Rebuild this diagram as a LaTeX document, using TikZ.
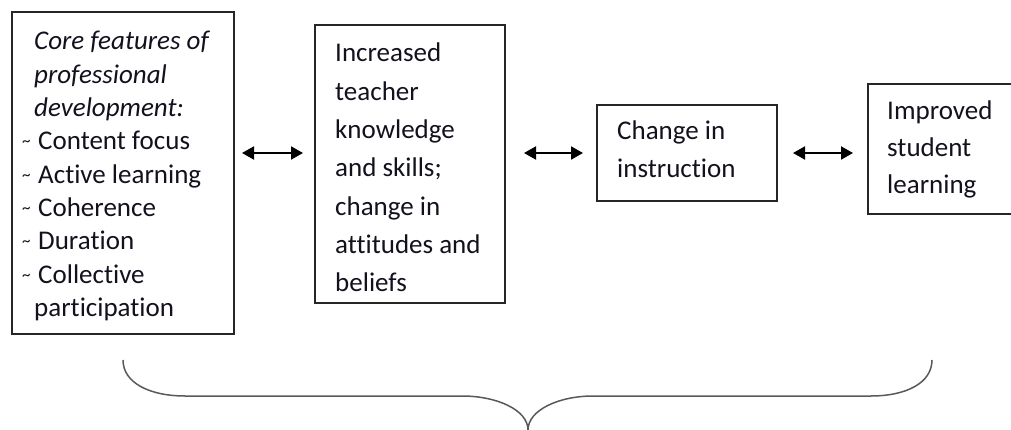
\documentclass[tikz,border=0pt]{standalone}
\usepackage{fontspec}
\setmainfont{Carlito}[Ligatures=NoCommon]
\usetikzlibrary{arrows.meta}
\definecolor{ink}{RGB}{18,18,30}
% small tilde used as a bullet
\newcommand\tld{\makebox[16pt][l]{\raisebox{3pt}{\fontsize{17}{17}\selectfont\textasciitilde}}}
\begin{document}
\begin{tikzpicture}[x=1pt,y=-1pt,
  box/.style={draw=black!85, line width=1.3pt, rectangle, inner sep=0pt, outer sep=0pt},
  txt/.style={anchor=base west, inner sep=0pt, text=ink},
  link/.style={draw=black, line width=2pt,
    {Triangle[length=12pt,width=13pt]}-{Triangle[length=12pt,width=13pt]}},
  bracepath/.style={draw=black!65, line width=1.5pt}]
\useasboundingbox (0,0) rectangle (1011,430);
\clip (0,0) rectangle (1011,430);

% boxes
\node[box, minimum width=222pt, minimum height=322pt] (b1) at (123,173) {};
\node[box, minimum width=190pt, minimum height=278pt] (b2) at (410,164) {};
\node[box, minimum width=180pt, minimum height=96pt]  (b3) at (687,153) {};
\node[box, minimum width=162pt, minimum height=130pt] (b4) at (949,149) {};

% box texts
\node[txt] (t1) at (34,50) {\parbox[t]{215pt}{\fontsize{27}{33.3}\selectfont\raggedright
  \textit{Core features of}\\
  \textit{professional}\\
  \textit{development:}\\
  \hspace*{-12pt}\tld Content focus\\
  \hspace*{-12pt}\tld Active learning\\
  \hspace*{-12pt}\tld Coherence\\
  \hspace*{-12pt}\tld Duration\\
  \hspace*{-12pt}\tld Collective\\
  participation}};
\node[txt] (t2) at (335,62) {\parbox[t]{170pt}{\fontsize{27}{38.3}\selectfont\raggedright
  Increased\\ teacher\\ knowledge\\ and skills;\\ change in\\ attitudes and\\ beliefs}};
\node[txt] (t3) at (617,140) {\parbox[t]{160pt}{\fontsize{27}{38}\selectfont\raggedright
  Change in\\ instruction}};
\node[txt] (t4) at (887,120) {\parbox[t]{120pt}{\fontsize{27}{37}\selectfont\raggedright
  Improved\\ student\\ learning}};

% two-way links
\draw[link, shorten <=8pt, shorten >=12pt] (b1.east |- b3.center) -- (b2.west |- b3.center);
\draw[link, shorten <=19pt, shorten >=14pt] (b2.east |- b3.center) -- (b3.west);
\draw[link, shorten <=16pt, shorten >=15pt] (b3.east) -- (b4.west |- b3.center);

% curly brace under the chain
\coordinate (bl) at (123,360);
\coordinate (br) at (932,360);
\coordinate (tip) at (528,430);
\draw[bracepath] (bl) .. controls (123,383) and (150,396) .. (185,396) -- (462,396)
  .. controls (497,396) and (528,410) .. (tip);
\draw[bracepath] (tip) .. controls (528,410) and (559,396) .. (593,396) -- (871,396)
  .. controls (906,396) and (932,383) .. (br);
\end{tikzpicture}
\end{document}
